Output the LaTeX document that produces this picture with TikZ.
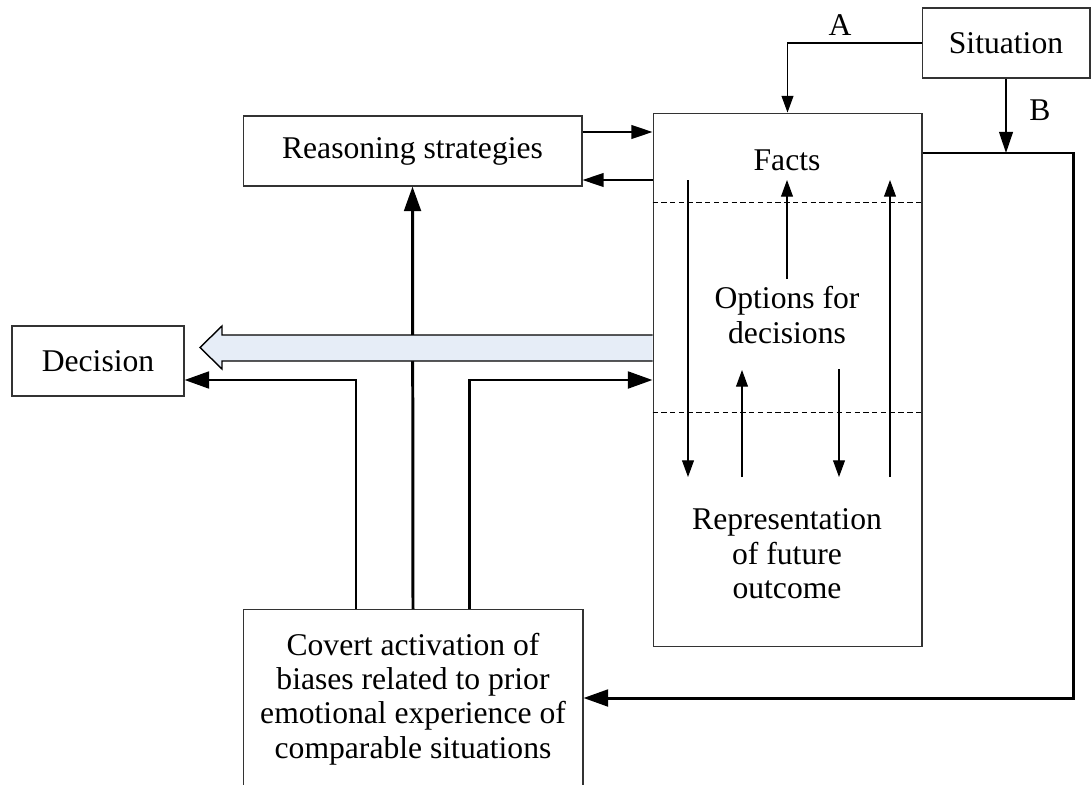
\documentclass[tikz,border=0pt]{standalone}
\usepackage{fontspec}
\setmainfont{Liberation Serif}
\usetikzlibrary{arrows.meta}
\newcommand{\lblfont}{\fontsize{18}{19.6}\selectfont}
\begin{document}
\begin{tikzpicture}[x=0.02cm,y=-0.02cm,
  box/.style={draw=black!80, line width=0.6pt, inner sep=0pt, align=center, font=\lblfont},
  txt/.style={inner sep=0pt, align=center, font=\lblfont},
  thinarr/.style={line width=0.6pt, -{Triangle[length=9.5pt,width=6.8pt]}},
  midarr/.style={line width=0.9pt, -{Triangle[length=12pt,width=7.8pt]}},
  thickarr/.style={line width=1.7pt, -{Triangle[length=14pt,width=9.5pt]}},
  sepline/.style={line width=0.5pt, dash pattern=on 3pt off 2pt}]
\clip (0,0) rectangle (1091,784);
\useasboundingbox (0,0) rectangle (1091,784);

% boxes
\node[box, minimum width=3.36cm, minimum height=1.4cm] (sit) at (1006,43) {Situation};
\node[box, minimum width=5.38cm, minimum height=10.68cm] (main) at (787.5,380) {};
\node[box, minimum width=6.78cm, minimum height=1.4cm] (reas) at (412.5,151) {Reasoning strategies};
\node[box, minimum width=3.44cm, minimum height=1.4cm] (dec) at (98,361) {Decision};
\node[box, minimum width=6.8cm, minimum height=4.2cm, anchor=north] (cov) at (413,609) {};
\node[txt] (covtxt) at (413,699) {Covert activation of\\biases related to prior\\emotional experience of\\comparable situations};

% contents of the central box
\node[txt] (facts) at (787,160) {Facts};
\node[txt] (opts) at (787,315) {Options for\\decisions};
\node[txt] (repr) at (787,554) {Representation\\of future\\outcome};
\draw[sepline] (main.west |- 0,202) -- (main.east |- 0,202);
\draw[sepline] (main.west |- 0,412) -- (main.east |- 0,412);

\coordinate (d1t) at (688,180);  \coordinate (d1b) at (688,477);
\coordinate (u1b) at (787,279);  \coordinate (u1t) at (787,180);
\coordinate (u2b) at (890,477);  \coordinate (u2t) at (890,180);
\coordinate (u3b) at (742,477);  \coordinate (u3t) at (742,370);
\coordinate (d2t) at (839,369);  \coordinate (d2b) at (839,477);
\draw[thinarr] (d1t) -- (d1b);
\draw[thinarr] (u1b) -- (u1t);
\draw[thinarr] (u2b) -- (u2t);
\draw[thinarr] (u3b) -- (u3t);
\draw[thinarr] (d2t) -- (d2b);

% situation feeds
\node[txt] (labA) at (840,25) {A};
\node[txt] (labB) at (1040,110) {B};
\draw[thinarr] (sit.west) -| (main.north);
\coordinate (bjoin) at (1006,153);
\coordinate (rc1) at (1073,153);
\coordinate (rc2) at (1073,698);
\draw[line width=1.7pt] (main.east |- bjoin) -- (rc1) -- (rc2) -- (rc2 -| 1060,0);
\draw[thickarr] (rc2) -- (cov.east |- rc2);
\draw[midarr, line width=1.1pt] (sit.south) -- (bjoin);

% reasoning strategies exchange
\draw[midarr] (reas.east |- 0,132) -- (main.west |- 0,132);
\draw[midarr] (main.west |- 0,180) -- (reas.east |- 0,180);

% biases to reasoning, decision and options
\draw[thickarr] (cov.north) -- (reas.south);
\coordinate (lb) at (356,380);
\coordinate (rb) at (469,380);
\draw[thickarr] (cov.north -| lb) -- (lb) -- (dec.east |- lb);
\draw[thickarr] (cov.north -| rb) -- (rb) -- (main.west |- rb);

% broad arrow from options to decision
\filldraw[fill={rgb,255:red,230;green,237;blue,247}, draw=black, line width=0.8pt]
  (main.west |- 0,335) -- (222,335) -- (222,326) -- (200,347.5) -- (222,369)
  -- (222,361) -- (main.west |- 0,361);
\end{tikzpicture}
\end{document}
